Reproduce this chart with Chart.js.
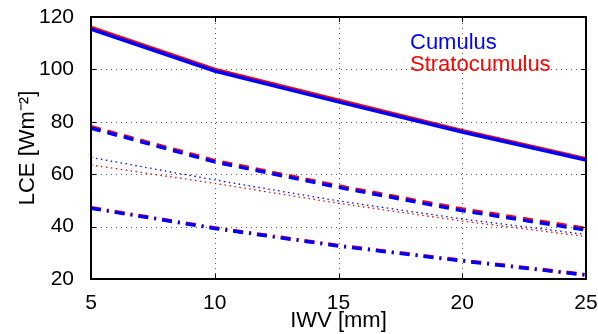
<!DOCTYPE html>
<html>
<head>
<meta charset="utf-8">
<script src="https://cdn.jsdelivr.net/npm/chart.js@4"></script>
<style>
  body { margin: 0; background: #fff; }
  #wrap { width: 598px; height: 334px; }
</style>
</head>
<body>
<div id="wrap"><canvas id="myChart" width="598" height="334"></canvas></div>
<script>
// IWV values (x)
var iwv = [5, 10, 15, 20, 25];

// Cumulus (blue)
var cuSolid   = [115.4, 99.4, 87.6, 76.1, 65.4];
var cuDashed  = [77.6, 64.7, 55.0, 46.1, 38.7];
var cuDotted  = [66.4, 57.8, 49.8, 42.9, 37.0];
var cuDashDot = [47.0, 39.3, 32.6, 26.9, 21.5];

// Stratocumulus (red)
var scSolid   = [116.0, 100.0, 88.2, 76.6, 65.9];
var scDashed  = [78.1, 65.2, 55.5, 46.7, 39.3];
var scDotted  = [63.5, 56.5, 48.9, 42.1, 36.2];
var scDashDot = [47.2, 39.5, 32.8, 27.1, 21.7];

var yTicks = [20, 40, 60, 80, 100, 120];
var xTicks = [5, 10, 15, 20, 25];

var FONT = "'Liberation Sans', Arial, sans-serif";

function pts(ys){ return iwv.map((x, i)=> ({x: x, y: ys[i]})); }

function ds(ys, color, width, dash, order){
  return {
    data: pts(ys),
    borderColor: color,
    borderWidth: width,
    borderDash: dash,
    pointRadius: 0,
    tension: 0,
    fill: false,
    order: order
  };
}

// dotted grid under the data
var dottedGrid = {
  id: 'dottedGrid',
  beforeDatasetsDraw(chart){
    var ctx = chart.ctx, a = chart.chartArea;
    var xs = chart.scales.x, ys = chart.scales.y;
    ctx.save();
    ctx.strokeStyle = '#555';
    ctx.lineWidth = 1;
    ctx.setLineDash([1, 4]);
    ctx.beginPath();
    xTicks.forEach((t)=>{
      var px = Math.round(xs.getPixelForValue(t)) + 0.5;
      ctx.moveTo(px, a.bottom); ctx.lineTo(px, a.top);
    });
    yTicks.forEach((t)=>{
      var py = Math.round(ys.getPixelForValue(t)) + 0.5;
      ctx.moveTo(a.left, py); ctx.lineTo(a.right, py);
    });
    ctx.stroke();
    ctx.restore();
  }
};

// tick marks inside the box + frame + legend text
var matlabBits = {
  id: 'matlabBits',
  afterDraw(chart){
    var ctx = chart.ctx, a = chart.chartArea;
    var xs = chart.scales.x, ys = chart.scales.y;
    ctx.save();
    ctx.strokeStyle = '#000';
    ctx.lineWidth = 1;
    ctx.beginPath();
    xTicks.forEach((t)=>{
      var px = Math.round(xs.getPixelForValue(t)) + 0.5;
      ctx.moveTo(px, a.bottom); ctx.lineTo(px, a.bottom - 5);
      ctx.moveTo(px, a.top); ctx.lineTo(px, a.top + 5);
    });
    yTicks.forEach((t)=>{
      var py = Math.round(ys.getPixelForValue(t)) + 0.5;
      ctx.moveTo(a.left, py); ctx.lineTo(a.left + 5, py);
      ctx.moveTo(a.right, py); ctx.lineTo(a.right - 5, py);
    });
    ctx.stroke();
    ctx.lineWidth = 2;
    ctx.strokeRect(a.left, a.top, a.right - a.left, a.bottom - a.top);

    ctx.font = "22px " + FONT;
    ctx.textBaseline = 'middle';
    ctx.textAlign = 'left';
    ctx.fillStyle = '#0000ff';
    ctx.fillText('Cumulus', 410, 43);
    ctx.fillStyle = '#ff0000';
    ctx.fillText('Stratocumulus', 410, 65);
    ctx.restore();
  }
};

var chart = new Chart(document.getElementById('myChart').getContext('2d'), {
  type: 'line',
  data: {
    datasets: [
      ds(scSolid, '#ff0000', 3.5, [], 1),
      ds(scDashed, '#ff0000', 3.5, [10, 7], 1),
      ds(scDotted, '#ff0000', 1.3, [1.5, 3.5], 1),
      ds(scDashDot, '#ff0000', 3.5, [10, 6, 2, 6], 1),
      ds(cuSolid, '#0000ff', 3.5, [], 0),
      ds(cuDashed, '#0000ff', 3.5, [10, 7], 0),
      ds(cuDotted, '#0000ff', 1.3, [1.5, 3.5], 0),
      ds(cuDashDot, '#0000ff', 3.5, [10, 6, 2, 6], 0)
    ]
  },
  plugins: [dottedGrid, matlabBits],
  options: {
    responsive: false,
    maintainAspectRatio: false,
    animation: false,
    layout: { padding: { top: 17, right: 0, left: 0, bottom: 0 } },
    plugins: { legend: { display: false }, tooltip: { enabled: false } },
    scales: {
      x: {
        type: 'linear',
        min: 5, max: 25,
        afterBuildTicks: (s)=>{ s.ticks = xTicks.map((v)=> ({value: v})); },
        afterFit: (s)=>{ s.height = 55; s.paddingLeft = 0; s.paddingRight = 12; },
        grid: { display: false },
        border: { display: false },
        ticks: { color: '#000', font: { family: FONT, size: 21 }, padding: 4, maxRotation: 0 },
        title: { display: true, text: 'IWV [mm]', color: '#000', font: { family: FONT, size: 22 }, padding: { top: 0, bottom: 0 } }
      },
      y: {
        min: 20, max: 120,
        afterBuildTicks: (s)=>{ s.ticks = yTicks.map((v)=> ({value: v})); },
        afterFit: (s)=>{ s.width = 91; s.paddingTop = 0; s.paddingBottom = 0; },
        grid: { display: false },
        border: { display: false },
        ticks: { color: '#000', font: { family: FONT, size: 21 }, padding: 9 },
        title: { display: true, text: 'LCE [Wm\u207B\u00B2]', color: '#000', font: { family: FONT, size: 22 }, padding: { top: 15, bottom: 0 } }
      }
    }
  }
});
</script>
</body>
</html>
